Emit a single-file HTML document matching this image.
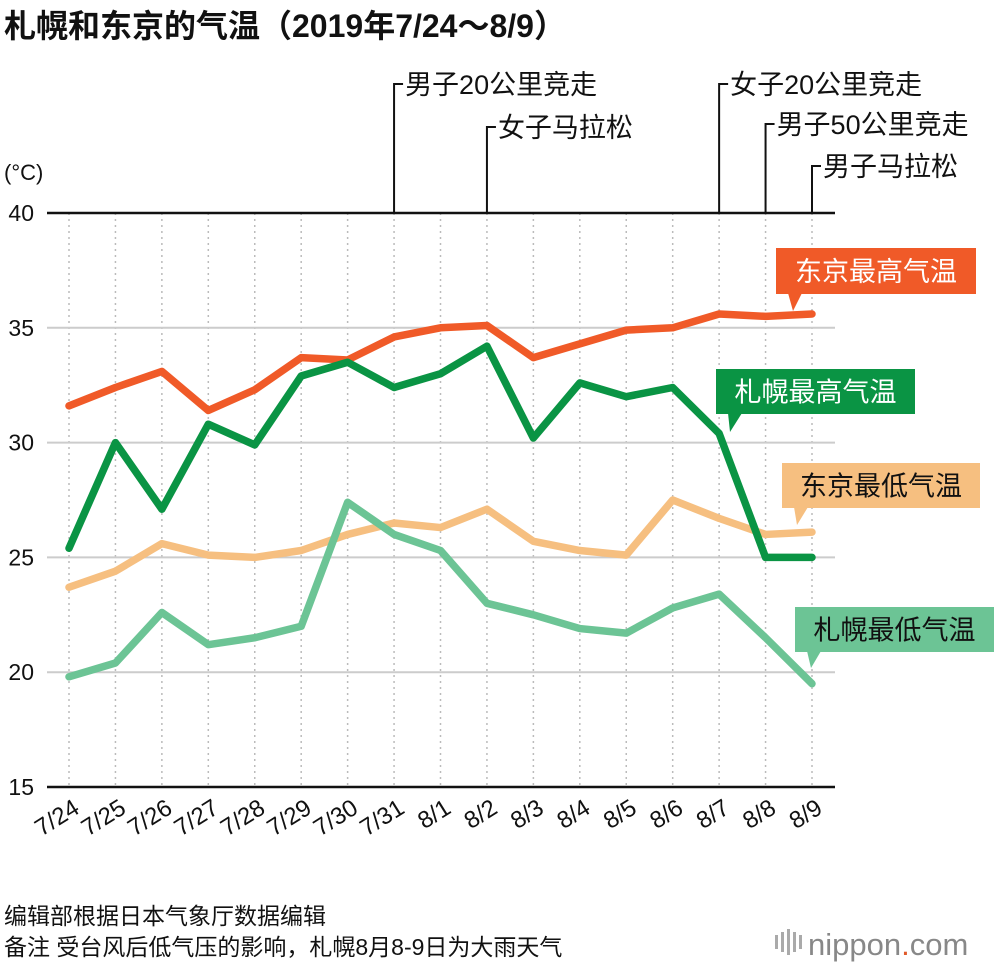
<!DOCTYPE html>
<html><head><meta charset="utf-8"><style>
body{margin:0;background:#fff;width:1000px;height:966px;overflow:hidden;font-family:"Liberation Sans","Noto Sans CJK SC",sans-serif}
svg text{font-family:"Liberation Sans","Noto Sans CJK SC",sans-serif}
</style></head><body>
<svg id="chart" width="1000" height="966" viewBox="0 0 1000 966" xmlns="http://www.w3.org/2000/svg">
<text x="4" y="37" font-size="32" font-weight="bold" fill="#111">札幌和东京的气温（2019年7/24～8/9）</text>
<text x="4" y="180" font-size="22" fill="#111">(°C)</text>
<g id="grid"></g><g id="events"></g><g id="lines"></g><g id="labels"></g>
<text x="4" y="924" font-size="23" fill="#111">编辑部根据日本气象厅数据编辑</text>
<text x="4" y="955" font-size="23" fill="#111">备注  受台风后低气压的影响，札幌8月8-9日为大雨天气</text>
<text x="808" y="955" font-size="31" fill="#888">nippon<tspan fill="#e05a2a">.</tspan>com</text>
<g fill="#aaa"><rect x="775" y="935" width="3" height="14"/><rect x="781" y="932" width="3" height="20"/><rect x="787" y="929" width="3" height="26"/><rect x="793" y="932" width="3" height="20"/><rect x="799" y="935" width="3" height="14"/></g>
</svg>
<script>
const categories=["7/24","7/25","7/26","7/27","7/28","7/29","7/30","7/31","8/1","8/2","8/3","8/4","8/5","8/6","8/7","8/8","8/9"];
const tokyoMax=[31.6,32.4,33.1,31.4,32.3,33.7,33.6,34.6,35.0,35.1,33.7,34.3,34.9,35.0,35.6,35.5,35.6];
const sapporoMax=[25.4,30.0,27.1,30.8,29.9,32.9,33.5,32.4,33.0,34.2,30.2,32.6,32.0,32.4,30.4,25.0,25.0];
const tokyoMin=[23.7,24.4,25.6,25.1,25.0,25.3,26.0,26.5,26.3,27.1,25.7,25.3,25.1,27.5,26.7,26.0,26.1];
const sapporoMin=[19.8,20.4,22.6,21.2,21.5,22.0,27.4,26.0,25.3,23.0,22.5,21.9,21.7,22.8,23.4,21.5,19.5];
const yTicks=[15,20,25,30,35,40];
const events=[["7/31","男子20公里竞走",84],["8/2","女子马拉松",127],["8/7","女子20公里竞走",84],["8/8","男子50公里竞走",124],["8/9","男子马拉松",166]];
const NS="http://www.w3.org/2000/svg";
const x=i=>69+i*(812-69)/16;
const y=v=>787-(v-15)*(787-213)/25;
function mk(t,a,p){const e=document.createElementNS(NS,t);for(const k in a)e.setAttribute(k,a[k]);p.appendChild(e);return e;}
const grid=document.getElementById('grid');
categories.forEach((c,i)=>{
 const l=mk('line',{x1:x(i),x2:x(i),y1:213,y2:787,stroke:'#bbb','stroke-width':1.5,'stroke-dasharray':'2 4'},grid);
 
 
 const t=mk('text',{x:x(i)+12,y:812,'font-size':24,'text-anchor':'end',transform:`rotate(-32 ${x(i)+12} 812)`,fill:'#111'},grid);
 t.textContent=c;
 
 
});
yTicks.forEach(v=>{
 const edge=(v===15||v===40);
 const l=mk('line',{x1:47,x2:835,y1:y(v),y2:y(v),stroke:edge?'#111':'#ccc','stroke-width':edge?2.5:2},grid);
 
 
 const t=mk('text',{x:34,y:y(v)+8,'font-size':23,'text-anchor':'end',fill:'#111'},grid);
 t.textContent=v;
 
 
});
const ev=document.getElementById('events');
events.forEach(e=>{
 const xi=x(categories.indexOf(e[0]));
 const p=mk('polyline',{points:`${xi},213 ${xi},${e[2]} ${xi+9},${e[2]}`,fill:'none',stroke:'#111','stroke-width':2},ev);
 
 
 const t=mk('text',{x:xi+11,y:e[2]+10,'font-size':27,fill:'#111'},ev);
 t.textContent=e[1];
 
 
});
const lines=document.getElementById('lines');
[[tokyoMin,'#f6bf80','tokyo-min-line'],[sapporoMin,'#6cc495','sapporo-min-line'],[tokyoMax,'#f05a28','tokyo-max-line'],[sapporoMax,'#0a9444','sapporo-max-line']].forEach(s=>{
 const p=mk('polyline',{points:s[0].map((v,i)=>x(i)+','+y(v)).join(' '),fill:'none',stroke:s[1],'stroke-width':7.5,'stroke-linejoin':'round','stroke-linecap':'round'},lines);
 
 
});
const lab=document.getElementById('labels');
[[776,248,200,46,'#f05a28','#fff','东京最高气温',793,311,'legend-tokyo-max'],
 [716,369,199,45,'#0a9444','#fff','札幌最高气温',730,432,'legend-sapporo-max'],
 [782,463,198,45,'#f6bf80','#111','东京最低气温',797,525,'legend-tokyo-min'],
 [795,607,199,45,'#6cc495','#111','札幌最低气温',811,668,'legend-sapporo-min']].forEach(b=>{
 const g=mk('g',{},lab);
 
 
 mk('rect',{x:b[0],y:b[1],width:b[2],height:b[3],fill:b[4]},g);
 mk('polygon',{points:`${b[0]+12},${b[1]+b[3]-1} ${b[0]+26},${b[1]+b[3]-1} ${b[7]},${b[8]}`,fill:b[4]},g);
 const t=mk('text',{x:b[0]+b[2]/2,y:b[1]+b[3]/2+10,'font-size':27,'text-anchor':'middle',fill:b[5]},g);
 t.textContent=b[6];
});
</script>
</body></html>
